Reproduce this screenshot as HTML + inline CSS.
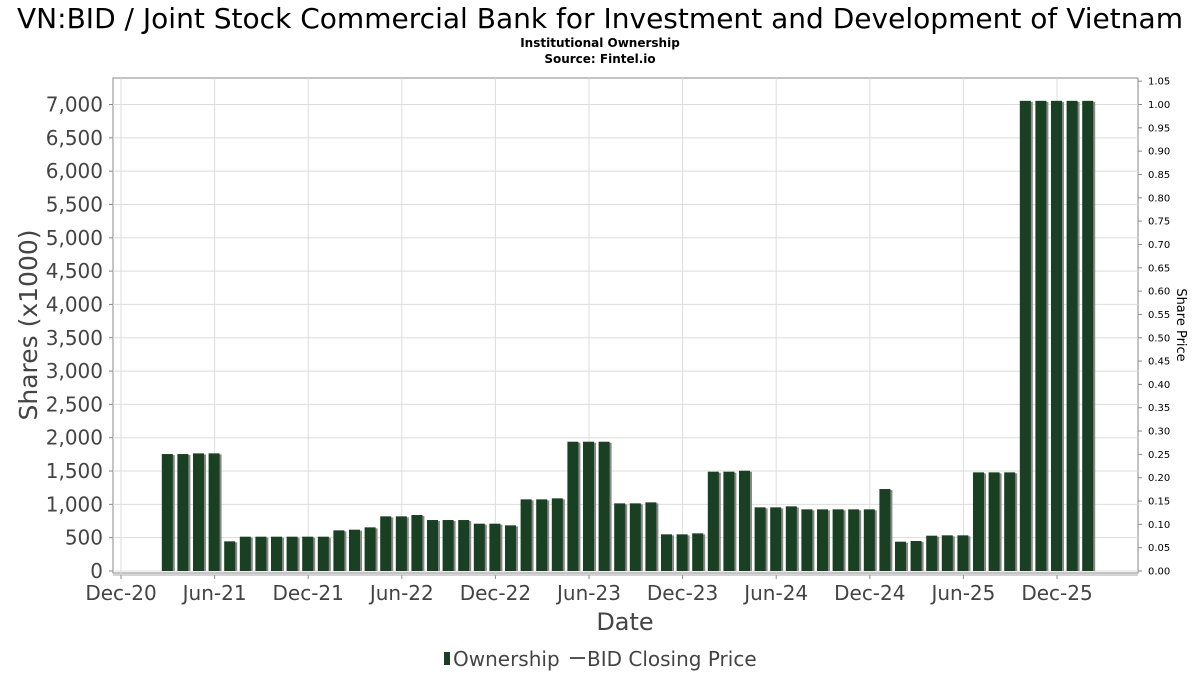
<!DOCTYPE html>
<html><head><meta charset="utf-8"><style>
body{margin:0;background:#fff;width:1200px;height:675px;overflow:hidden;font-family:"DejaVu Sans","Liberation Sans",sans-serif}
</style></head><body>
<svg id="c" width="1200" height="675" xmlns="http://www.w3.org/2000/svg" font-family="DejaVu Sans, Liberation Sans, sans-serif">
<text x="600" y="28" font-size="28" text-anchor="middle" fill="#000" textLength="1166" lengthAdjust="spacingAndGlyphs">VN:BID / Joint Stock Commercial Bank for Investment and Development of Vietnam</text>
<text x="600" y="47" font-size="12" font-weight="bold" text-anchor="middle" fill="#000">Institutional Ownership</text>
<text x="600" y="63" font-size="12" font-weight="bold" text-anchor="middle" fill="#000">Source: Fintel.io</text>
<g id="grid"></g><g id="bars"></g><g id="axes"></g>
<text transform="translate(37,325) rotate(-90)" font-size="25" text-anchor="middle" fill="#444">Shares (x1000)</text>
<text transform="translate(1177,325) rotate(90)" font-size="13" text-anchor="middle" fill="#000">Share Price</text>
<text x="625" y="630" font-size="24" text-anchor="middle" fill="#444">Date</text>
<g>
<rect x="444" y="652" width="6" height="13" fill="#1a4023"/>
<text x="453" y="666" font-size="20" fill="#444">Ownership</text>
<line x1="570" y1="658" x2="585" y2="658" stroke="#555" stroke-width="2"/>
<text x="587" y="666" font-size="20" fill="#444">BID Closing Price</text>
</g>
</svg>
<script>
const values=[1755,1755,1765,1765,445,515,515,515,515,515,515,610,620,655,820,820,840,765,765,765,710,710,685,1075,1075,1090,1940,1940,1940,1015,1015,1030,550,550,565,1490,1490,1505,955,955,970,925,925,925,925,925,1230,440,450,530,535,535,1480,1480,1480,7055,7055,7055,7055,7055];
const firstMonth=3; // months after Dec-20
const yTicks=[0,500,1000,1500,2000,2500,3000,3500,4000,4500,5000,5500,6000,6500,7000];
const rTicks=["0.00","0.05","0.10","0.15","0.20","0.25","0.30","0.35","0.40","0.45","0.50","0.55","0.60","0.65","0.70","0.75","0.80","0.85","0.90","0.95","1.00","1.05"];
const xLabels=["Dec-20","Jun-21","Dec-21","Jun-22","Dec-22","Jun-23","Dec-23","Jun-24","Dec-24","Jun-25","Dec-25"];
const L=113,R=1138,T=78,B=573;
const y0=571,ppu=(571-104.5)/7000;
const y=v=>y0-v*ppu;
const x=m=>121+m*15.6;
const ry=p=>y0-p*(571-104.5);
const NS="http://www.w3.org/2000/svg";
function mk(t,a,p){const e=document.createElementNS(NS,t);for(const k in a)e.setAttribute(k,a[k]);p.appendChild(e);return e;}
const grid=document.getElementById('grid'),bars=document.getElementById('bars'),axes=document.getElementById('axes');
const bg=mk('rect',{x:L,y:T,width:R-L,height:B-T,fill:'#fff',stroke:'#888'},grid);


yTicks.forEach(v=>{
 mk('line',{x1:L,x2:R,y1:y(v),y2:y(v),stroke:'#ddd'},grid);
 const t=mk('text',{x:103,y:y(v)+7,'font-size':20,'text-anchor':'end',fill:'#444'},axes);
 
 
 t.textContent=v.toLocaleString('en-US');
 mk('line',{x1:L-4,x2:L,y1:y(v),y2:y(v),stroke:'#888'},axes);
});
rTicks.forEach(s=>{
 const p=parseFloat(s);
 const t=mk('text',{x:1148,y:ry(p)+3.5,'font-size':10,fill:'#000'},axes);
 
 
 t.textContent=s;
 mk('line',{x1:R,x2:R+4,y1:ry(p),y2:ry(p),stroke:'#888'},axes);
});
xLabels.forEach((s,i)=>{
 const xx=x(i*6);
 mk('line',{x1:xx,x2:xx,y1:T,y2:B,stroke:'#ddd'},grid);
 mk('line',{x1:xx,x2:xx,y1:B+2,y2:B+6,stroke:'#888'},axes);
 const t=mk('text',{x:xx,y:600,'font-size':20,'text-anchor':'middle',fill:'#444'},axes);
 
 
 t.textContent=s;
});
mk('line',{x1:L,x2:R,y1:B+2,y2:B+2,stroke:'#aaa'},axes);
values.forEach((v,i)=>{
 const cx=x(firstMonth+i);
 mk('rect',{x:cx-5,y:y(v)+1,width:12,height:y0-y(v)-1,fill:'#888'},bars);
 const b=mk('rect',{x:cx-6,y:y(v),width:11,height:y0-y(v),fill:'#1a4023'},bars);
 
 
});
</script>
</body></html>
